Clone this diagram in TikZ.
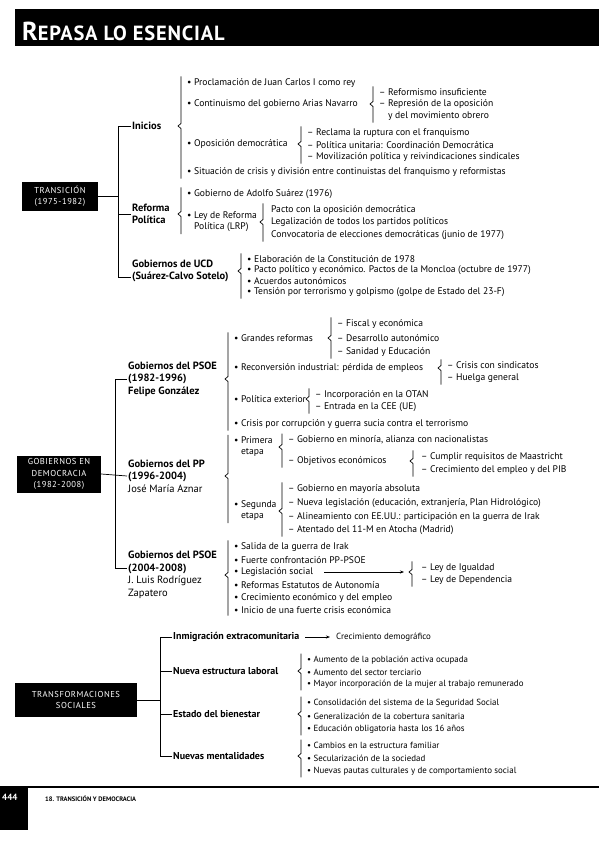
\documentclass[tikz,border=0pt]{standalone}
\usepackage{fontspec}
\setmainfont{PT Sans}
\usetikzlibrary{arrows.meta, positioning, calc}

% bracket with a small tick: first item, last item, node giving the tick level
\newcommand{\llave}[4][5pt]{%
  \coordinate (la) at ([xshift=-#1, yshift=1pt]#2.north west);
  \coordinate (lb) at ([yshift=-1pt]la |- #3.south west);
  \draw[lin] (la) -- ([yshift=2.5pt]la |- #4.west) -- ([xshift=-3pt]la |- #4.west)
    -- ([yshift=-2.5pt]la |- #4.west) -- (lb);}

\begin{document}
\begin{tikzpicture}[x=1pt, y=-1pt,
    font=\fontsize{9.6}{11}\selectfont,
    tema/.style={fill=black, text=white, align=center, inner sep=2pt,
      font=\fontsize{8.6}{11.5}\selectfont\addfontfeature{LetterSpace=6}},
    rama/.style={anchor=west, inner sep=1pt, align=left, font=\fontsize{10.5}{12.5}\selectfont\bfseries},
    itm/.style={anchor=west, inner sep=1pt, align=left},
    lin/.style={line width=0.7pt},
    arr/.style={-{Stealth[length=4pt]}, line width=0.6pt}
]
\useasboundingbox (0,0) rectangle (599,848);

% header
\fill (15,9) rectangle (599,46);
\node[anchor=base west, text=white, inner sep=0pt, font=\bfseries\addfontfeature{LetterSpace=4}] (titulo) at (22,41)
  {\fontsize{26}{26}\selectfont R\fontsize{20.5}{20.5}\selectfont EPASA LO ESENCIAL};

% ---------- Transicion
\node[tema, minimum width=76pt, minimum height=29pt] (trans) at (60,196) {TRANSICIÓN\\(1975-1982)};
\node[rama] (ini) at (131,126) {Inicios};
\node[rama] (ref) at (131,214) {Reforma\\Política};
\node[rama] (ucd) at (131,271) {Gobiernos de UCD\\(Suárez-Calvo Sotelo)};
\coordinate (s1) at (118,0);
\draw[lin] (ini.west) -- (ini.west -| s1) |- ([yshift=-6.25pt]ucd.west);
\draw[lin] (trans.east) -- (trans.east -| s1);
\draw[lin] (ref.west) -- (ref.west -| s1);

\node[itm] (i1) at (186,83) {• Proclamación de Juan Carlos I como rey};
\node[itm] (i2) at (186,104) {• Continuismo del gobierno Arias Navarro};
\node[itm] (i3) at (186,144) {• Oposición democrática};
\node[itm] (i4) at (186,172) {• Situación de crisis y división entre continuistas del franquismo y reformistas};
\llave{i1}{i4}{ini}
\node[itm] (i2a) at (378,92) {– Reformismo insuficiente};
\node[itm] (i2b) at (378,104) {– Represión de la oposición};
\node[itm] (i2c) at (387,116) {y del movimiento obrero};
\llave{i2a}{i2c}{i2}
\node[itm] (i3a) at (306,133) {– Reclama la ruptura con el franquismo};
\node[itm] (i3b) at (306,145) {– Política unitaria: Coordinación Democrática};
\node[itm] (i3c) at (306,157) {– Movilización política y reivindicaciones sindicales};
\llave{i3a}{i3c}{i3}

\node[itm] (r1) at (186,194) {• Gobierno de Adolfo Suárez (1976)};
\node[itm] (r2) at (186,222) {• Ley de Reforma\\\hphantom{• }Política (LRP)};
\llave{r1}{r2}{ref}
\node[itm] (r2a) at (270,210) {Pacto con la oposición democrática};
\node[itm] (r2b) at (270,222) {Legalización de todos los partidos políticos};
\node[itm] (r2c) at (270,235) {Convocatoria de elecciones democráticas (junio de 1977)};
\llave[7pt]{r2a}{r2c}{r2}

\node[itm] (u1) at (246,259) {• Elaboración de la Constitución de 1978};
\node[itm] (u2) at (246,270) {• Pacto político y económico. Pactos de la Moncloa (octubre de 1977)};
\node[itm] (u3) at (246,281) {• Acuerdos autonómicos};
\node[itm] (u4) at (246,292) {• Tensión por terrorismo y golpismo (golpe de Estado del 23-F)};
\llave{u1}{u4}{ucd}

% ---------- Gobiernos en democracia
\node[tema, minimum width=84pt, minimum height=37pt] (gob) at (59,474) {GOBIERNOS EN\\DEMOCRACIA\\(1982-2008)};
\node[rama] (psoe1) at (127,379) {Gobiernos del PSOE\\(1982-1996)\\Felipe González};
\node[rama] (pp) at (127,476) {Gobiernos del PP\\(1996-2004)\\\mdseries José María Aznar};
\node[rama] (psoe2) at (127,575) {Gobiernos del PSOE\\(2004-2008)\\\mdseries J. Luis Rodríguez\\\mdseries Zapatero};
\coordinate (s2) at (115,0);
\draw[lin] (psoe1.west) -- (psoe1.west -| s2) |- ([yshift=6.25pt]psoe2.west);
\draw[lin] (gob.east) -- (pp.west);

\node[itm] (p1) at (233,338) {• Grandes reformas};
\node[itm] (p2) at (233,368) {• Reconversión industrial: pérdida de empleos};
\node[itm] (p3) at (233,399) {• Política exterior};
\node[itm] (p4) at (233,424) {• Crisis por corrupción y guerra sucia contra el terrorismo};
\llave{p1}{p4}{psoe1}
\node[itm] (p1a) at (336,324) {– Fiscal y económica};
\node[itm] (p1b) at (336,338) {– Desarrollo autonómico};
\node[itm] (p1c) at (336,352) {– Sanidad y Educación};
\llave{p1a}{p1c}{p1}
\node[itm] (p2a) at (446,365) {– Crisis con sindicatos};
\node[itm] (p2b) at (446,378) {– Huelga general};
\llave{p2a}{p2b}{p2}
\node[itm] (p3a) at (314,395) {– Incorporación en la OTAN};
\node[itm] (p3b) at (314,407) {– Entrada en la CEE (UE)};
\llave{p3a}{p3b}{p3}

\node[itm] (e1) at (233,447) {• Primera\\\hphantom{• }etapa};
\node[itm] (e2) at (233,511) {• Segunda\\\hphantom{• }etapa};
\llave{e1}{e2}{pp}
\node[itm] (e1a) at (287,440) {– Gobierno en minoría, alianza con nacionalistas};
\node[itm] (e1b) at (287,461) {– Objetivos económicos};
\llave{e1a}{e1b}{e1}
\node[itm] (e1c) at (420,457) {– Cumplir requisitos de Maastricht};
\node[itm] (e1d) at (420,470) {– Crecimiento del empleo y del PIB};
\llave[7pt]{e1c}{e1d}{e1b}
\node[itm] (e2a) at (287,489) {– Gobierno en mayoría absoluta};
\node[itm] (e2b) at (287,503) {– Nueva legislación (educación, extranjería, Plan Hidrológico)};
\node[itm] (e2c) at (287,517) {– Alineamiento con EE.UU.: participación en la guerra de Irak};
\node[itm] (e2d) at (287,530) {– Atentado del 11-M en Atocha (Madrid)};
\llave{e2a}{e2d}{e2}

\node[itm] (q1) at (233,547) {• Salida de la guerra de Irak};
\node[itm] (q2) at (233,560) {• Fuerte confrontación PP-PSOE};
\node[itm] (q3) at (233,572) {• Legislación social};
\node[itm] (q4) at (233,585) {• Reformas Estatutos de Autonomía};
\node[itm] (q5) at (233,598) {• Crecimiento económico y del empleo};
\node[itm] (q6) at (233,610) {• Inicio de una fuerte crisis económica};
\llave{q1}{q6}{psoe2}
\node[itm] (q3a) at (420,568) {– Ley de Igualdad};
\node[itm] (q3b) at (420,580) {– Ley de Dependencia};
\llave[8pt]{q3a}{q3b}{q3}
\coordinate (lq) at (404,0);
\draw[arr] ([xshift=10pt]q3.east) -- (q3.east -| lq);

% ---------- Transformaciones sociales
\begin{scope}[font=\fontsize{8.9}{10}\selectfont,
    rama/.append style={font=\fontsize{10}{12}\selectfont\bfseries}]
\node[tema, minimum width=122pt, minimum height=34pt] (soc) at (76,700) {TRANSFORMACIONES\\SOCIALES};
\node[rama] (inm) at (172,637) {Inmigración extracomunitaria};
\node[itm] (dem) at (335,637) {Crecimiento demográfico};
\node[rama] (lab) at (172,671) {Nueva estructura laboral};
\node[rama] (bien) at (172,714) {Estado del bienestar};
\node[rama] (ment) at (172,756) {Nuevas mentalidades};
\coordinate (s3) at (160,0);
\draw[lin] (inm.west) -- (inm.west -| s3) |- (ment.west);
\draw[lin] (soc.east) -- (soc.east -| s3);
\draw[lin] (lab.west) -- (lab.west -| s3);
\draw[lin] (bien.west) -- (bien.west -| s3);
\draw[arr] ([xshift=5pt]inm.east) -- ([xshift=-5pt]dem.west);

\node[itm] (l1) at (306,660) {• Aumento de la población activa ocupada};
\node[itm] (l2) at (306,672) {• Aumento del sector terciario};
\node[itm] (l3) at (306,684) {• Mayor incorporación de la mujer al trabajo remunerado};
\llave{l1}{l3}{lab}
\node[itm] (b1) at (306,703) {• Consolidación del sistema de la Seguridad Social};
\node[itm] (b2) at (306,716) {• Generalización de la cobertura sanitaria};
\node[itm] (b3) at (306,729) {• Educación obligatoria hasta los 16 años};
\llave{b1}{b3}{bien}
\node[itm] (m1) at (306,745) {• Cambios en la estructura familiar};
\node[itm] (m2) at (306,758) {• Secularización de la sociedad};
\node[itm] (m3) at (306,771) {• Nuevas pautas culturales y de comportamiento social};
\llave{m1}{m3}{ment}
\end{scope}

% footer
\draw[line width=1.5pt] (0,787) -- (599,787);
\fill (0,787) rectangle (28,830);
\node[anchor=west, text=white, inner sep=0pt, font=\bfseries\fontsize{9}{9}\selectfont] (pag) at (2,797) {444};
\node[anchor=west, inner sep=0pt, font=\bfseries\fontsize{6.5}{7}\selectfont] (cap) at (45,799) {18. TRANSICIÓN Y DEMOCRACIA};
\end{tikzpicture}
\end{document}
